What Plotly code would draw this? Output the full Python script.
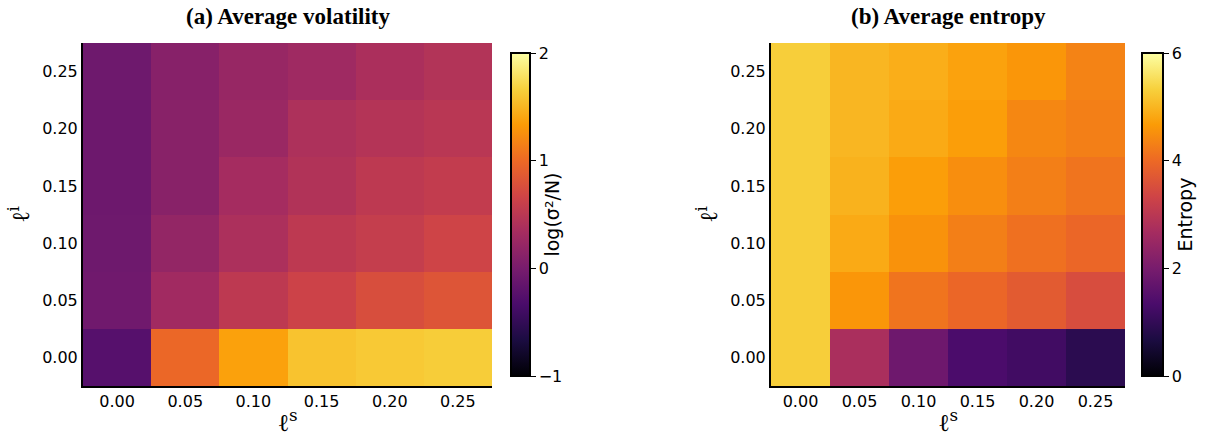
import plotly.graph_objects as go

ls_vals = [0.00, 0.05, 0.10, 0.15, 0.20, 0.25]
li_vals = [0.00, 0.05, 0.10, 0.15, 0.20, 0.25]
tick_labels = ["0.00", "0.05", "0.10", "0.15", "0.20", "0.25"]

# rows: li = 0.00 ... 0.25 ; columns: ls = 0.00 ... 0.25
volatility = [
    [-0.25, 0.98, 1.37, 1.58, 1.62, 1.64],
    [-0.06, 0.30, 0.52, 0.64, 0.76, 0.82],
    [-0.07, 0.20, 0.39, 0.52, 0.58, 0.66],
    [-0.08, 0.12, 0.33, 0.43, 0.52, 0.56],
    [-0.08, 0.12, 0.25, 0.40, 0.45, 0.49],
    [-0.07, 0.11, 0.23, 0.29, 0.38, 0.44],
]
entropy = [
    [5.3, 2.75, 1.85, 1.35, 1.20, 0.90],
    [5.3, 4.60, 4.15, 3.95, 3.75, 3.50],
    [5.3, 4.85, 4.55, 4.30, 4.10, 3.95],
    [5.3, 4.95, 4.70, 4.50, 4.30, 4.15],
    [5.3, 5.00, 4.85, 4.70, 4.40, 4.30],
    [5.3, 5.00, 4.90, 4.75, 4.60, 4.35],
]

W, H = 1206, 440
tickfont = dict(family="DejaVu Sans", size=16, color="black")
y_dom = [1 - 386 / H, 1 - 43 / H]
cb_len = (386 - 43) / H
cb_y = (y_dom[0] + y_dom[1]) / 2
cb_title_font = dict(family="DejaVu Sans", size=19, color="black")

fig = go.Figure()
fig.add_trace(go.Heatmap(
    x=ls_vals, y=li_vals, z=volatility, colorscale="Inferno", zmin=-1, zmax=2,
    xaxis="x", yaxis="y",
    colorbar=dict(
        x=501 / W, xanchor="left", y=cb_y, yanchor="middle", len=cb_len, lenmode="fraction",
        thickness=19, outlinewidth=2, outlinecolor="black",
        tickvals=[-1, 0, 1, 2], ticks="outside", ticklen=5, tickcolor="black",
        tickfont=tickfont,
        title=dict(text="log(σ²/N)", side="right", font=cb_title_font),
    ),
))
fig.add_trace(go.Heatmap(
    x=ls_vals, y=li_vals, z=entropy, colorscale="Inferno", zmin=0, zmax=6,
    xaxis="x2", yaxis="y2",
    colorbar=dict(
        x=1132 / W, xanchor="left", y=cb_y, yanchor="middle", len=cb_len, lenmode="fraction",
        thickness=21, outlinewidth=2, outlinecolor="black",
        tickvals=[0, 2, 4, 6], ticks="outside", ticklen=5, tickcolor="black",
        tickfont=tickfont,
        title=dict(text="Entropy", side="right", font=cb_title_font),
    ),
))

axis_common = dict(
    showline=True, linewidth=2, linecolor="black", mirror=False, ticks="",
    showgrid=False, zeroline=False, tickfont=tickfont, automargin=False,
    tickvals=ls_vals, ticktext=tick_labels, range=[-0.025, 0.275],
)
title_font = dict(family="DejaVu Serif", size=24, color="black")

fig.update_layout(
    width=W, height=H,
    margin=dict(l=0, r=0, t=0, b=0, autoexpand=False),
    paper_bgcolor="white", plot_bgcolor="white",
    xaxis=dict(axis_common, domain=[83 / W, 492 / W], anchor="y",
               title=dict(text="ℓ<sup>s</sup>", font=title_font, standoff=4)),
    yaxis=dict(axis_common, domain=y_dom, anchor="x",
               title=dict(text="ℓ<sup>i</sup>", font=title_font, standoff=6)),
    xaxis2=dict(axis_common, domain=[771 / W, 1125 / W], anchor="y2",
                title=dict(text="ℓ<sup>s</sup>", font=title_font, standoff=4)),
    yaxis2=dict(axis_common, domain=y_dom, anchor="x2",
                title=dict(text="ℓ<sup>i</sup>", font=title_font, standoff=6)),
    annotations=[
        dict(text="<b>(a) Average volatility</b>", x=(83 + 492) / 2 / W, y=1 - 17 / H,
             xref="paper", yref="paper", showarrow=False, xanchor="center", yanchor="middle",
             font=dict(family="Liberation Serif", size=23, color="black")),
        dict(text="<b>(b) Average entropy</b>", x=(771 + 1125) / 2 / W, y=1 - 17 / H,
             xref="paper", yref="paper", showarrow=False, xanchor="center", yanchor="middle",
             font=dict(family="Liberation Serif", size=23, color="black")),
    ],
)

fig.write_html("out.html", config={"displayModeBar": False},
               post_script="document.body.style.margin='0px';document.body.style.overflow='hidden';")
